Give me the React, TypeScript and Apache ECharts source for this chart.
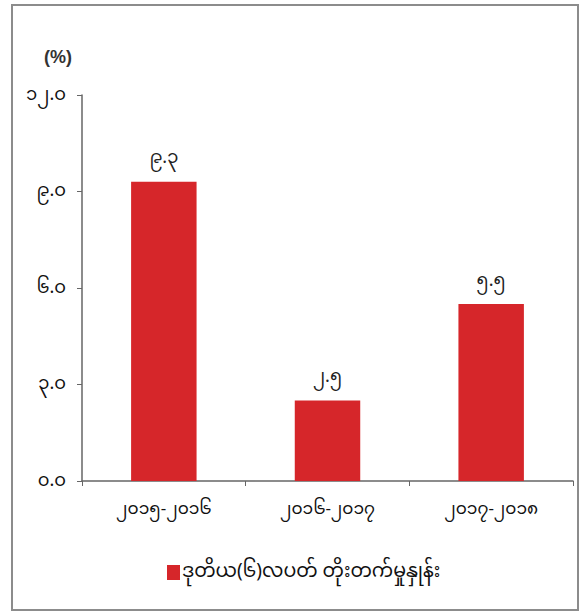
import React, { useEffect, useRef } from "react";
import * as echarts from "echarts";

const categories = ["၂၀၁၅-၂၀၁၆", "၂၀၁၆-၂၀၁၇", "၂၀၁၇-၂၀၁၈"];
const values = [9.3, 2.5, 5.5];
const valueLabels = ["၉.၃", "၂.၅", "၅.၅"];
const yTickLabels: Record<string, string> = { "0": "၀.၀", "3": "၃.၀", "6": "၆.၀", "9": "၉.၀", "12": "၁၂.၀" };
const seriesName = "ဒုတိယ(၆)လပတ် တိုးတက်မှုနှုန်း";
const unitLabel = "(%)";

const FONT = '"Noto Sans Myanmar", "Padauk", "Myanmar Text", "Noto Sans", "DejaVu Sans", sans-serif';

export default function App() {
  const ref = useRef<HTMLDivElement>(null);
  useEffect(() => {
    if (!ref.current) return;
    const chart = echarts.init(ref.current, undefined, { renderer: "svg" });
    chart.setOption({
      animation: false,
      backgroundColor: "#ffffff",
      textStyle: { fontFamily: FONT },
      graphic: [
        {
          type: "rect",
          shape: { x: 12, y: 5, width: 566, height: 605 },
          style: { fill: "none", stroke: "#8c8c8c", lineWidth: 2 },
          silent: true,
        },
        {
          type: "text",
          left: 44,
          top: 48,
          style: { text: unitLabel, fontSize: 18, fontWeight: "bold", fill: "#333", fontFamily: "Liberation Sans, Arial, sans-serif" },
        },
      ],
      grid: { left: 82, right: 13, top: 95, bottom: 132, containLabel: false },
      legend: {
        bottom: 26,
        left: 162,
        itemWidth: 13,
        itemHeight: 15,
        itemGap: 4,
        icon: "rect",
        textStyle: { fontSize: 19, color: "#111", fontFamily: FONT, padding: [0, 0, 0, -3] },
        data: [seriesName],
      },
      xAxis: {
        type: "category",
        data: categories,
        boundaryGap: true,
        axisLine: { show: true, lineStyle: { color: "#666", width: 1.5 } },
        axisTick: { show: true, alignWithLabel: false, inside: false, length: 5, lineStyle: { color: "#666" } },
        axisLabel: { fontSize: 17, color: "#111", margin: 20, fontFamily: FONT },
        splitLine: { show: false },
      },
      yAxis: {
        type: "value",
        min: 0,
        max: 12,
        interval: 3,
        axisLine: { show: true, lineStyle: { color: "#666", width: 1.5 } },
        axisTick: { show: true, length: 5, lineStyle: { color: "#666" } },
        axisLabel: {
          fontSize: 18,
          color: "#111",
          margin: 16,
          fontFamily: FONT,
          formatter: (v: number) => yTickLabels[String(v)] ?? String(v),
        },
        splitLine: { show: false },
      },
      series: [
        {
          name: seriesName,
          type: "bar",
          data: values,
          barWidth: "40%",
          itemStyle: { color: "#d6262a" },
          label: {
            show: true,
            position: "top",
            distance: 14,
            fontSize: 18,
            color: "#222",
            fontFamily: FONT,
            formatter: (p: any) => valueLabels[p.dataIndex],
          },
        },
      ],
    });
    return () => chart.dispose();
  }, []);
  return (
    <div
      ref={ref}
      style={{ position: "absolute", left: 0, top: 0, width: 586, height: 613, background: "#fff" }}
    />
  );
}
